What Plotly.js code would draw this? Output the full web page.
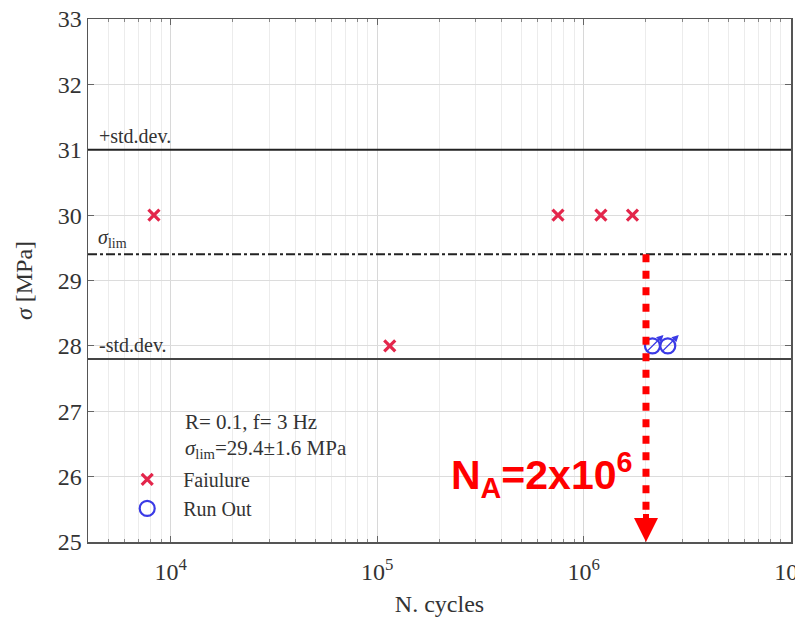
<!DOCTYPE html>
<html>
<head>
<meta charset="utf-8">
<script src="https://cdn.plot.ly/plotly-3.0.1.min.js"></script>
<style>html,body{margin:0;padding:0;background:#fff;}#chart{width:795px;height:617px;}</style>
</head>
<body>
<div id="chart"></div>
<script>
// ---- data ----
const failureCycles = [8300, 115000, 750000, 1210000, 1720000];
const failureStress = [30, 28, 30, 30, 30];
const runOutCycles = [2150000, 2550000];
const runOutStress = [28, 28];
const sigmaLim = 29.4;
const stdDev = 1.6;
const upperStd = 31.0;
const lowerStd = 27.8;
const nA = 2000000;
const xTickVals = [1e4, 1e5, 1e6, 1e7];
const xTickText = ['10<sup>4</sup>', '10<sup>5</sup>', '10<sup>6</sup>', '10<sup>7</sup>'];
const yTickVals = [25, 26, 27, 28, 29, 30, 31, 32, 33];

const serif = 'Liberation Serif, Times New Roman, serif';
const txtCol = '#333333';
const red = '#e3264b';
const blue = '#3a3ae6';

const traces = [
  {x: failureCycles, y: failureStress, type: 'scatter', mode: 'markers', name: 'Faiulure',
   marker: {symbol: 'x-thin', size: 11, color: red, line: {color: red, width: 3.2}}, cliponaxis: false},
  {x: runOutCycles, y: runOutStress, type: 'scatter', mode: 'markers', name: 'Run Out',
   marker: {symbol: 'circle-open', size: 15, color: blue, line: {color: blue, width: 2.2}}, cliponaxis: false}
];

const shapes = [
  {type: 'line', xref: 'paper', x0: 0, x1: 1, yref: 'y', y0: upperStd, y1: upperStd, line: {color: '#222', width: 2}},
  {type: 'line', xref: 'paper', x0: 0, x1: 1, yref: 'y', y0: lowerStd, y1: lowerStd, line: {color: '#444', width: 2}},
  {type: 'line', xref: 'paper', x0: 0, x1: 1, yref: 'y', y0: sigmaLim, y1: sigmaLim, line: {color: '#222', width: 2, dash: 'dashdot'}},
  {type: 'line', xref: 'x', x0: nA, x1: nA, yref: 'y', y0: sigmaLim, y1: 25.35, line: {color: '#ff0000', width: 7, dash: '8px,8.5px'}}
];

const annotations = [
  {xref: 'paper', x: 0.013, yref: 'y', y: upperStd, xanchor: 'left', yanchor: 'bottom', yshift: 1, showarrow: false,
   text: '+std.dev.', font: {family: serif, size: 20, color: txtCol}},
  {xref: 'paper', x: 0.013, yref: 'y', y: lowerStd, xanchor: 'left', yanchor: 'bottom', yshift: 1, showarrow: false,
   text: '-std.dev.', font: {family: serif, size: 20, color: txtCol}},
  {xref: 'paper', x: 0.012, yref: 'y', y: sigmaLim, xanchor: 'left', yanchor: 'bottom', yshift: 1, showarrow: false,
   text: '<i>σ</i><sub>lim</sub>', font: {family: serif, size: 20, color: txtCol}},
  {xref: 'paper', x: 0.135, yref: 'y', y: 26.83, xanchor: 'left', yanchor: 'middle', showarrow: false,
   text: 'R= 0.1, f= 3 Hz', font: {family: serif, size: 21, color: txtCol}},
  {xref: 'paper', x: 0.135, yref: 'y', y: 26.43, xanchor: 'left', yanchor: 'middle', showarrow: false,
   text: '<i>σ</i><sub>lim</sub>=' + sigmaLim + '±' + stdDev + ' MPa', font: {family: serif, size: 21, color: txtCol}},
  // NA arrowhead
  {xref: 'x', x: Math.log10(nA), yref: 'y', y: 25, axref: 'x', ax: Math.log10(nA), ayref: 'y', ay: 25.45,
   showarrow: true, arrowhead: 2, arrowsize: 0.8, arrowwidth: 6, arrowcolor: '#ff0000', text: ''},
  {xref: 'x', x: Math.log10(nA), yref: 'y', y: 26.02, xanchor: 'right', yanchor: 'middle', xshift: -12, showarrow: false,
   text: '<b>N<sub>A</sub>=2x10<sup>6</sup></b>', font: {family: 'Liberation Sans, Arial, sans-serif', size: 41, color: '#ff0000'}}
];
// run-out arrows
runOutCycles.forEach((c, i) => {
  annotations.push({xref: 'x', x: Math.log10(c), yref: 'y', y: runOutStress[i], xshift: 11, yshift: 11,
    ax: -18, ay: 18, showarrow: true, arrowhead: 2, arrowsize: 1, arrowwidth: 1.4, arrowcolor: blue, text: ''});
});

const layout = {
  width: 795, height: 617,
  margin: {l: 88, r: 4, t: 19, b: 75},
  paper_bgcolor: '#fff', plot_bgcolor: '#fff',
  showlegend: true,
  legend: {x: 0.033, y: 0.157, xanchor: 'left', yanchor: 'top', bgcolor: 'rgba(0,0,0,0)',
    font: {family: serif, size: 20, color: txtCol}, itemwidth: 62, tracegroupgap: 0},
  xaxis: {
    type: 'log', range: [3.6, 7.003],
    tickvals: xTickVals, ticktext: xTickText, ticks: 'inside', ticklen: 6, tickcolor: '#666',
    ticklabelstandoff: 8, ticklabeloverflow: 'allow',
    showgrid: true, gridcolor: '#d8d8d8', gridwidth: 1,
    minor: {dtick: 'D1', showgrid: true, gridcolor: '#ececec', ticks: 'inside', ticklen: 3, tickcolor: '#888'},
    showline: true, linecolor: '#555', linewidth: 1.5, mirror: 'ticks', zeroline: false,
    tickfont: {family: serif, size: 24, color: txtCol},
    title: {text: 'N. cycles', font: {family: serif, size: 24, color: txtCol}, standoff: 14}
  },
  yaxis: {
    range: [25, 33], tickvals: yTickVals, ticks: 'inside', ticklen: 6, tickcolor: '#666',
    showgrid: true, gridcolor: '#dcdcdc',
    showline: true, linecolor: '#555', linewidth: 1.5, mirror: 'ticks', zeroline: false,
    tickfont: {family: serif, size: 24, color: txtCol},
    title: {text: '<i>σ</i> [MPa]', font: {family: serif, size: 24, color: txtCol}, standoff: 18}
  },
  shapes: shapes,
  annotations: annotations
};

Plotly.newPlot('chart', traces, layout, {displayModeBar: false, staticPlot: true});
</script>
</body>
</html>
